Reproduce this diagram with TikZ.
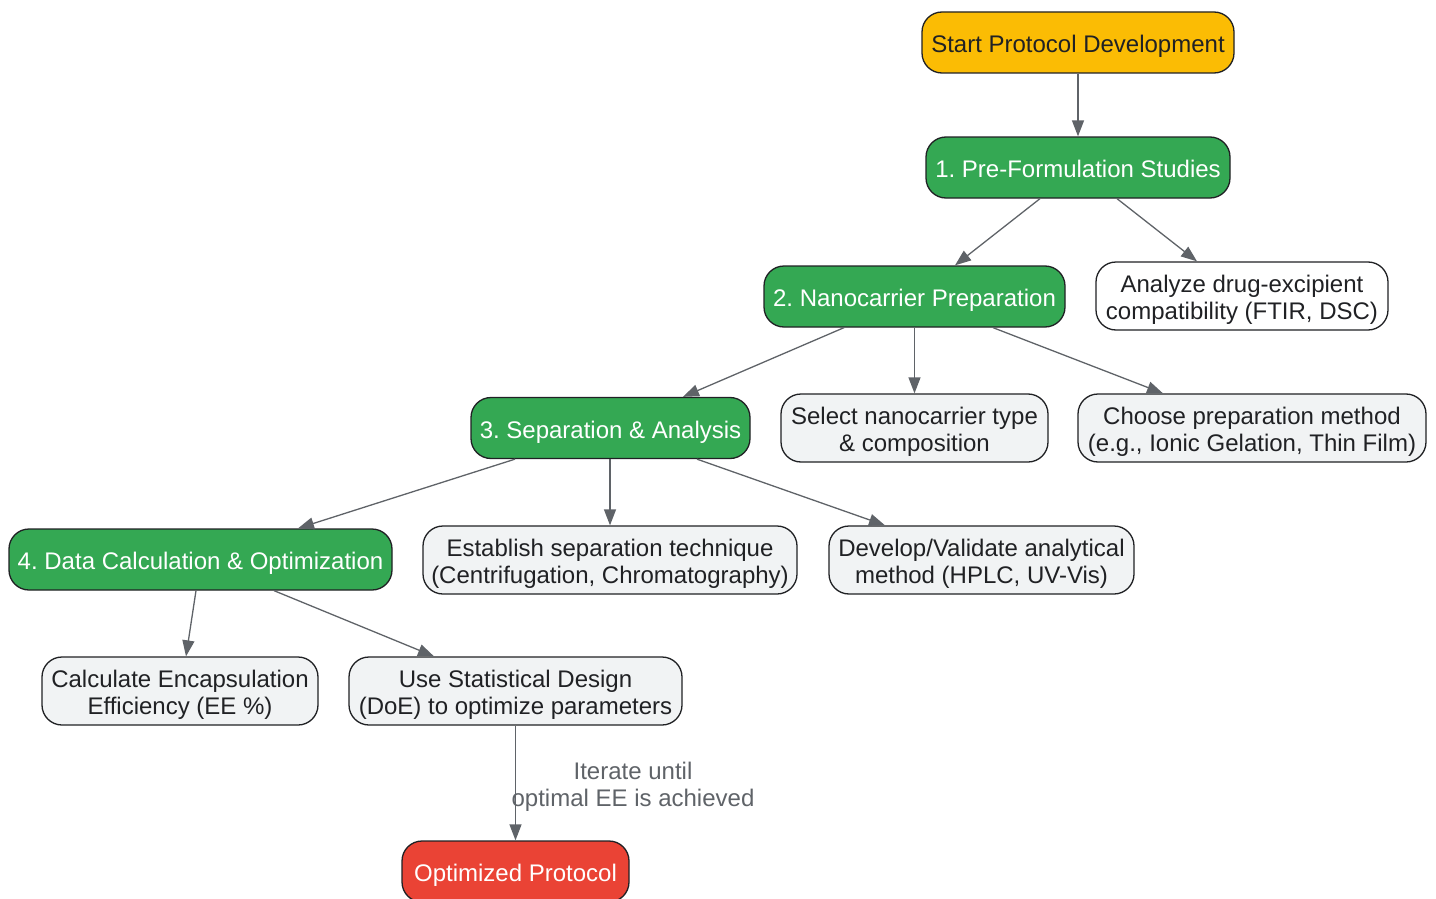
\documentclass[tikz,border=0pt]{standalone}
\usepackage{fontspec}
\setmainfont{Liberation Sans}
\usetikzlibrary{arrows.meta}
\frenchspacing
\definecolor{cyellow}{HTML}{FBBC04}
\definecolor{cgreen}{HTML}{34A853}
\definecolor{cred}{HTML}{EA4335}
\definecolor{cgrey}{HTML}{F1F3F4}
\definecolor{cborder}{HTML}{202124}
\definecolor{cline}{HTML}{5F6368}
\tikzset{
  box/.style={draw=cborder, line width=1.3pt, rounded corners=20pt, align=center,
    inner sep=0pt, font=\fontsize{24}{27}\selectfont\frenchspacing, text=cborder},
  onebox/.style={box, minimum height=61pt, text height=20pt, text depth=0pt},
  twobox/.style={box, minimum height=68pt, text height=47.5pt, text depth=0pt},
  phase/.style={onebox, fill=cgreen, text=white},
  task/.style={twobox, fill=cgrey},
  conn/.style={draw=cline, line width=1.3pt, -{Triangle[length=16pt,width=12pt]}},
  elabel/.style={font=\fontsize{24}{27}\selectfont, text=cline, align=center}
}
\begin{document}
\begin{tikzpicture}[x=1pt,y=-1pt]
\useasboundingbox (0,0) rectangle (1436,899);
\node[onebox, fill=cyellow, minimum width=312pt] (start) at (1078,42.5) {Start Protocol Development};
\node[phase, minimum width=304pt] (pre) at (1078,167.5) {1. Pre-Formulation Studies};
\node[phase, minimum width=301pt] (nano) at (914.5,296.5) {2. Nanocarrier Preparation};
\node[twobox, fill=white, minimum width=292pt] (analyze) at (1242,296) {Analyze drug-excipient\\compatibility (FTIR, DSC)};
\node[phase, minimum width=279pt] (sep) at (610.5,428) {3. Separation \& Analysis};
\node[task, minimum width=267pt] (select) at (914.5,428) {Select nanocarrier type\\\& composition};
\node[task, minimum width=348pt] (choose) at (1252,428) {Choose preparation method\\(e.g., Ionic Gelation, Thin Film)};
\node[phase, minimum width=383pt] (data) at (200.5,559.5) {4. Data Calculation \& Optimization};
\node[task, minimum width=374pt] (establish) at (610,560) {Establish separation technique\\(Centrifugation, Chromatography)};
\node[task, minimum width=305pt] (develop) at (981.5,560) {Develop/Validate analytical\\method (HPLC, UV-Vis)};
\node[task, minimum width=276pt] (calc) at (180,691) {Calculate Encapsulation\\Efficiency (EE \%)};
\node[task, minimum width=333pt] (use) at (515.5,691) {Use Statistical Design\\(DoE) to optimize parameters};
\node[onebox, fill=cred, text=white, minimum width=227pt] (opt) at (515.5,871.5) {Optimized Protocol};

\draw[conn] (start.south) -- (pre.north);
\draw[conn] ([xshift=-38pt]pre.south) -- ([xshift=40.5pt]nano.north);
\draw[conn] ([xshift=39pt]pre.south) -- ([xshift=-45pt]analyze.north);
\draw[conn] ([xshift=-70.5pt]nano.south) -- ([xshift=72.5pt]sep.north);
\draw[conn] (nano.south) -- (select.north);
\draw[conn] ([xshift=78.5pt]nano.south) -- ([xshift=-89pt]choose.north);
\draw[conn] ([xshift=-95.5pt]sep.south) -- ([xshift=97.5pt]data.north);
\draw[conn] ([xshift=-0.5pt]sep.south) -- (establish.north);
\draw[conn] ([xshift=86.5pt]sep.south) -- ([xshift=-96.5pt]develop.north);
\draw[conn] ([xshift=-4.5pt]data.south) -- ([xshift=6pt]calc.north);
\draw[conn] ([xshift=73.5pt]data.south) -- ([xshift=-81.5pt]use.north);
\draw[conn] (use.south) -- (opt.north);
\node[elabel] (lbl) at (633,787) {Iterate until\\optimal EE is achieved};
\end{tikzpicture}
\end{document}
